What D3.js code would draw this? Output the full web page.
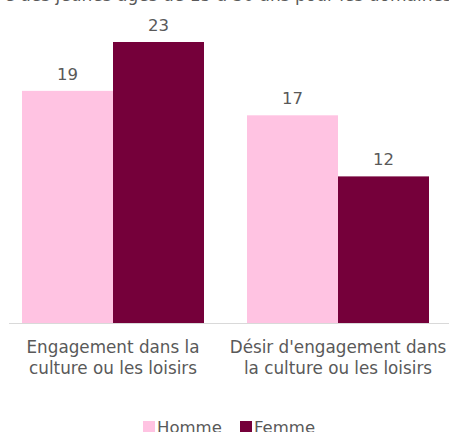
<!DOCTYPE html>
<html>
<head>
<meta charset="utf-8">
<script src="https://cdn.jsdelivr.net/npm/d3@7.9.0/dist/d3.min.js"></script>
<style>
  body { margin: 0; background: #fff; }
  svg { display: block; font-family: "DejaVu Sans", Verdana, sans-serif; }
</style>
</head>
<body>
<svg id="chart" width="449" height="432"></svg>
<script>
const categories = [["Engagement dans la", "culture ou les loisirs"], ["Désir d'engagement dans", "la culture ou les loisirs"]];
const seriesNames = ["Homme", "Femme"];
const homme = [19, 17];
const femme = [23, 12];
const colors = ["#FFC3E2", "#75003A"];
const titleText = "e des jeunes âgés de 15 à 30 ans pour les domaines";

const svg = d3.select('#chart');
const baseY = 323;

let y = d3.scaleLinear().domain([0, 23]).range([baseY, 42]);
let x0 = d3.scaleBand().domain(d3.range(categories.length)).range([0.5, 450.5]);
let x1 = d3.scaleBand().domain(seriesNames).range([21.5, 203.5]);

// title, cut off by the top edge
svg.append('text')
  .attr('x', 228).attr('y', 1)
  .attr('text-anchor', 'middle')
  .attr('font-size', 17)
  .attr('fill', '#595959')
  .text(titleText);

const values = [homme, femme];

// bars + value labels
categories.forEach((c, i) => {
  seriesNames.forEach((s, j) => {
    const v = values[j][i];
    svg.append('rect')
      .attr('x', x0(i) + x1(s))
      .attr('y', y(v))
      .attr('width', x1.bandwidth())
      .attr('height', baseY - y(v))
      .attr('fill', colors[j]);

    svg.append('text')
      .attr('x', x0(i) + x1(s) + x1.bandwidth() / 2)
      .attr('y', y(v) - 11)
      .attr('text-anchor', 'middle')
      .attr('font-size', 16.5)
      .attr('fill', '#595959')
      .text(v);
  });
});

// axis line
svg.append('line')
  .attr('x1', 9).attr('x2', 449)
  .attr('y1', baseY + 0.5).attr('y2', baseY + 0.5)
  .attr('stroke', '#d9d9d9').attr('stroke-width', 1);

// category labels
categories.forEach((lines, i) => {
  lines.forEach((l, k) => {
    svg.append('text')
      .attr('x', x0(i) + x0.bandwidth() / 2)
      .attr('y', 353 + k * 21)
      .attr('text-anchor', 'middle')
      .attr('font-size', 16.8)
      .attr('fill', '#595959')
      .text(l);
  });
});

// legend
const legendX = [143, 240];
seriesNames.forEach((s, j) => {
  svg.append('rect')
    .attr('x', legendX[j]).attr('y', 421)
    .attr('width', 12).attr('height', 12)
    .attr('fill', colors[j]);
  svg.append('text')
    .attr('x', legendX[j] + 14).attr('y', 433)
    .attr('font-size', 16.5)
    .attr('fill', '#595959')
    .text(s);
});
</script>
</body>
</html>
